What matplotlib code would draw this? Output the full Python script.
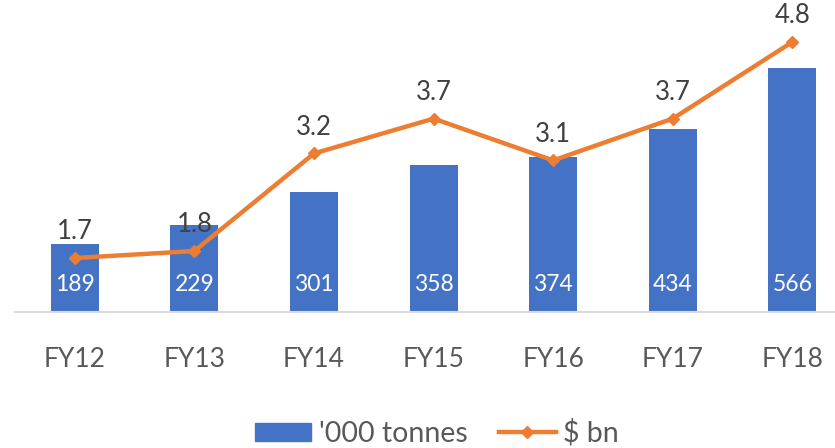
import matplotlib.pyplot as plt
from matplotlib.lines import Line2D
from matplotlib.patches import Patch

years = ["FY12", "FY13", "FY14", "FY15", "FY16", "FY17", "FY18"]
tonnes = [189, 229, 301, 358, 374, 434, 566]
value_bn = [1.7, 1.8, 3.2, 3.7, 3.1, 3.7, 4.8]

plt.rcParams['font.family'] = ['Lato', 'DejaVu Sans']

blue = "#4472C4"
orange = "#ED7D31"
grey = "#595959"

fig = plt.figure(figsize=(8.35, 4.48), dpi=100)
ax = fig.add_axes([15 / 835, 136 / 448, 820 / 835, 292 / 448])
ax2 = ax.twinx()

x = list(range(len(years)))

# bars with labels inside
ax.bar(x, tonnes, width=0.4, color=blue, zorder=2)
for xi, v in zip(x, tonnes):
    ax.text(xi, 43 + 28 / 0.467, str(v), ha="center", va="center",
            color="white", fontsize=16.5, zorder=3)

ax.set_xlim(-0.5, -0.5 + 820 / 119.6)
ax.set_ylim(43, 43 + 292 / 0.467)

# line on the secondary axis
ax2.plot(x, value_bn, color=orange, lw=3.2, marker="D", markersize=6,
         zorder=4)
for xi, v in zip(x, value_bn):
    ax2.annotate(f"{v:.1f}", (xi, v), xytext=(0, 10), textcoords="offset points",
                 ha="center", va="bottom", fontsize=18.5, color="#404040")
ax2.set_ylim((376.5 - 312) / 69.7, (376.5 - 20) / 69.7)

for a in (ax, ax2):
    for s in a.spines.values():
        s.set_visible(False)
    a.set_yticks([])
ax.spines["bottom"].set_visible(True)
ax.spines["bottom"].set_color("#D9D9D9")
ax.spines["bottom"].set_linewidth(1.5)

ax.set_xticks(x)
ax.set_xticklabels(years, fontsize=19, color=grey)
ax.tick_params(axis="x", length=0, pad=25)

handles = [Patch(color=blue, label="'000 tonnes"),
           Line2D([], [], color=orange, lw=3.2, marker="D", markersize=6,
                  label="$ bn")]
fig.legend(handles=handles, loc="center",
           bbox_to_anchor=(436.5 / 835, 1 - 433 / 448),
           ncol=2, frameon=False, fontsize=20.5, labelcolor=grey,
           handlelength=2.0, handleheight=0.6, columnspacing=1.1,
           handletextpad=0.25)

fig.savefig("out.png", dpi=100)
